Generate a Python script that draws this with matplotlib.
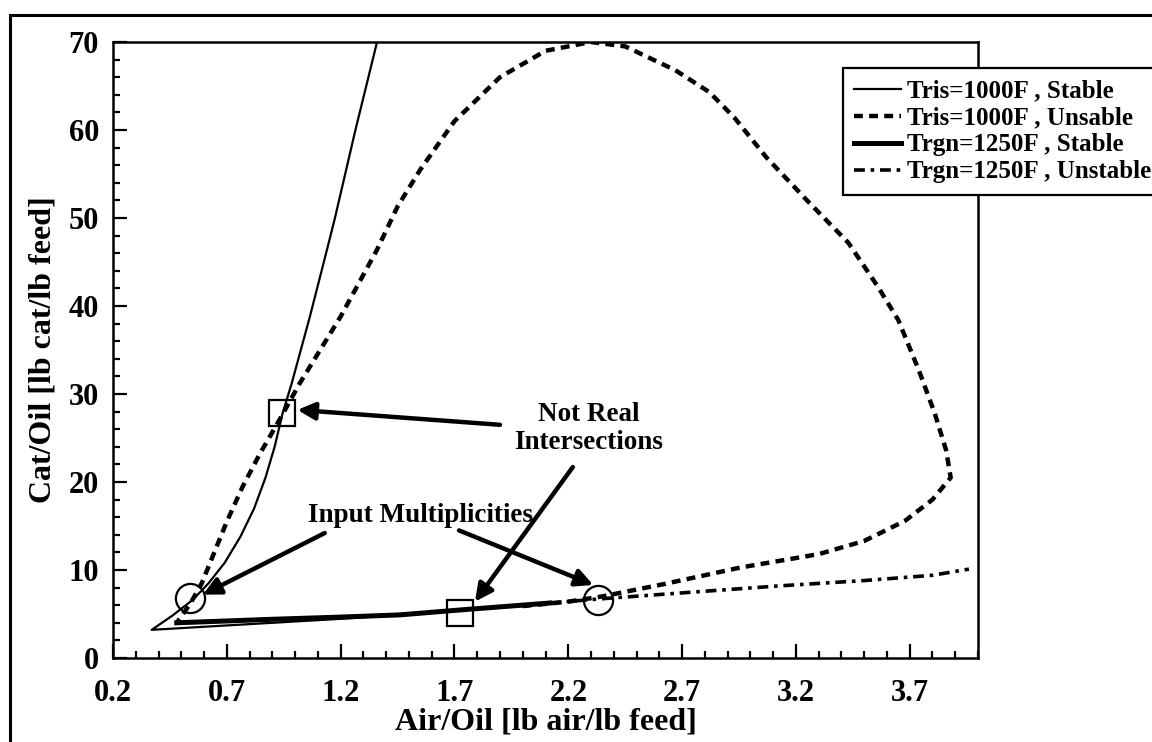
import matplotlib
matplotlib.use("Agg")
import matplotlib.pyplot as plt
from matplotlib.lines import Line2D
from matplotlib.patches import Rectangle
from matplotlib.ticker import FixedLocator, MultipleLocator, FormatStrFormatter

plt.rcParams['font.family'] = ['Liberation Serif', 'DejaVu Serif']
plt.rcParams['font.weight'] = 'bold'

# Riser temperature Tris = 1000 F : stable branch
tris_stable_x = [1.36, 1.265, 1.175, 1.14, 1.065, 0.985, 0.945, 0.91, 0.87,
                 0.82, 0.76, 0.69, 0.62, 0.55, 0.46, 0.37, 0.60, 0.90, 1.20,
                 1.46, 1.72, 2.00]
tris_stable_y = [70.0, 60.0, 50.0, 46.4, 38.8, 31.2, 27.8, 24.0, 20.5,
                 17.0, 13.8, 10.8, 8.5, 6.6, 4.8, 3.2, 3.55, 4.0, 4.45,
                 4.9, 5.4, 5.9]

# Riser temperature Tris = 1000 F : unstable branch
tris_unstable_x = [2.00, 2.20, 2.35, 2.62, 2.96, 3.30, 3.50, 3.68, 3.80, 3.88, 3.86,
                   3.81, 3.74, 3.65, 3.56, 3.43, 3.26, 3.07, 2.93, 2.82, 2.67, 2.45,
                   2.30, 2.10, 1.90, 1.70, 1.55, 1.45, 1.36, 1.20, 1.02, 0.93,
                   0.845, 0.77, 0.70, 0.645, 0.59, 0.54, 0.48]
tris_unstable_y = [5.9, 6.4, 7.0, 8.4, 10.3, 11.8, 13.3, 15.6, 18.0, 20.5, 23.6,
                   27.8, 32.7, 38.4, 42.2, 47.2, 51.7, 56.9, 61.4, 64.3, 66.8, 69.5,
                   70.0, 69.0, 66.0, 61.0, 55.5, 51.3, 46.4, 38.8, 31.2, 27.0,
                   23.2, 19.5, 15.5, 12.0, 8.5, 6.2, 4.0]

# Regenerator temperature Trgn = 1250 F : stable branch
trgn_stable_x = [0.48, 0.90, 1.20, 1.46, 1.72, 2.12]
trgn_stable_y = [4.0, 4.4, 4.65, 4.9, 5.45, 6.25]

# Regenerator temperature Trgn = 1250 F : unstable branch
trgn_unstable_x = [2.12, 2.33, 2.70, 3.13, 3.50, 3.80, 3.96]
trgn_unstable_y = [6.25, 6.7, 7.4, 8.2, 8.8, 9.4, 10.1]

# Marked points
fake_x = [0.943, 1.725]
fake_y = [27.8, 5.1]
multi_x = [0.538, 2.33]
multi_y = [6.8, 6.6]

x_ticks = [0.2, 0.7, 1.2, 1.7, 2.2, 2.7, 3.2, 3.7]
y_ticks = [0, 10, 20, 30, 40, 50, 60, 70]

legend_labels = ["Tris=1000F , Stable", "Tris=1000F , Unsable",
                 "Trgn=1250F , Stable", "Trgn=1250F , Unstable"]

fig = plt.figure(figsize=(11.52, 7.42), dpi=100)
ax = fig.add_axes([113 / 1152, 1 - 658 / 742, 865 / 1152, 616 / 742])

style_tris_s = dict(color='black', lw=1.6, linestyle='-')
style_tris_u = dict(color='black', lw=3.2, linestyle=(0, (2.0, 1.4)))
style_trgn_s = dict(color='black', lw=3.6, linestyle='-')
style_trgn_u = dict(color='black', lw=2.6, linestyle=(0, (3.0, 1.6, 1.0, 1.6)))

ax.plot(tris_stable_x, tris_stable_y, **style_tris_s)
ax.plot(tris_unstable_x, tris_unstable_y, **style_tris_u)
ax.plot(trgn_stable_x, trgn_stable_y, **style_trgn_s)
ax.plot(trgn_unstable_x, trgn_unstable_y, **style_trgn_u)

ax.plot(fake_x, fake_y, linestyle='none', marker='s', ms=19, mfc='none',
        mec='black', mew=1.6)
ax.plot(multi_x, multi_y, linestyle='none', marker='o', ms=21, mfc='none',
        mec='black', mew=1.6)

arrow = dict(arrowstyle='-|>', color='black', lw=3.2, mutation_scale=26,
             shrinkA=0, shrinkB=0)
ax.annotate('', xy=(1.01, 28.2), xytext=(1.90, 26.5), arrowprops=arrow)
ax.annotate('', xy=(1.79, 6.4), xytext=(2.22, 21.7), arrowprops=arrow)
ax.annotate('', xy=(0.595, 7.2), xytext=(1.13, 14.2), arrowprops=arrow)
ax.annotate('', xy=(2.31, 8.3), xytext=(1.72, 14.5), arrowprops=arrow)

ax.text(2.29, 26.1, "Not Real\nIntersections", ha='center', va='center',
        fontsize=19.5, fontweight='bold', linespacing=1.15)
ax.text(1.55, 16.25, "Input Multiplicities", ha='center', va='center',
        fontsize=19.5, fontweight='bold')

ax.set_xlim(0.2, 4.0)
ax.set_ylim(0, 70)
ax.xaxis.set_major_locator(FixedLocator(x_ticks))
ax.xaxis.set_major_formatter(FormatStrFormatter('%.1f'))
ax.xaxis.set_minor_locator(MultipleLocator(0.1))
ax.yaxis.set_major_locator(FixedLocator(y_ticks))
ax.yaxis.set_minor_locator(MultipleLocator(2))
ax.tick_params(which='both', direction='in', top=False, right=False,
               width=1.6, labelsize=22)
ax.tick_params(axis='x', which='major', length=10, pad=15)
ax.tick_params(axis='y', which='major', length=10, pad=10)
ax.tick_params(which='minor', length=5)
for s in ax.spines.values():
    s.set_linewidth(1.8)

ax.set_xlabel("Air/Oil [lb air/lb feed]", fontsize=23, fontweight='bold', labelpad=0)
ax.set_ylabel("Cat/Oil [lb cat/lb feed]", fontsize=23, fontweight='bold', labelpad=8)

handles = [Line2D([], [], **style_tris_s), Line2D([], [], **style_tris_u),
           Line2D([], [], **style_trgn_s), Line2D([], [], **style_trgn_u)]
leg = ax.legend(handles, legend_labels, loc='upper left',
                bbox_to_anchor=(843 / 1152, 1 - 68 / 742),
                bbox_transform=fig.transFigure, borderaxespad=0,
                frameon=True, fancybox=False, framealpha=1,
                edgecolor='black', handlelength=1.85, handletextpad=0.25,
                borderpad=0.45, labelspacing=0.16,
                prop={'weight': 'bold', 'size': 18})
leg.get_frame().set_linewidth(1.6)
leg.set_zorder(10)

fig.add_artist(Rectangle((10 / 1152, -0.1), 1.2, 1.1 - 15 / 742, fill=False,
                         lw=2.2, edgecolor='black', transform=fig.transFigure,
                         clip_on=False))

fig.savefig("out.png", dpi=100)
